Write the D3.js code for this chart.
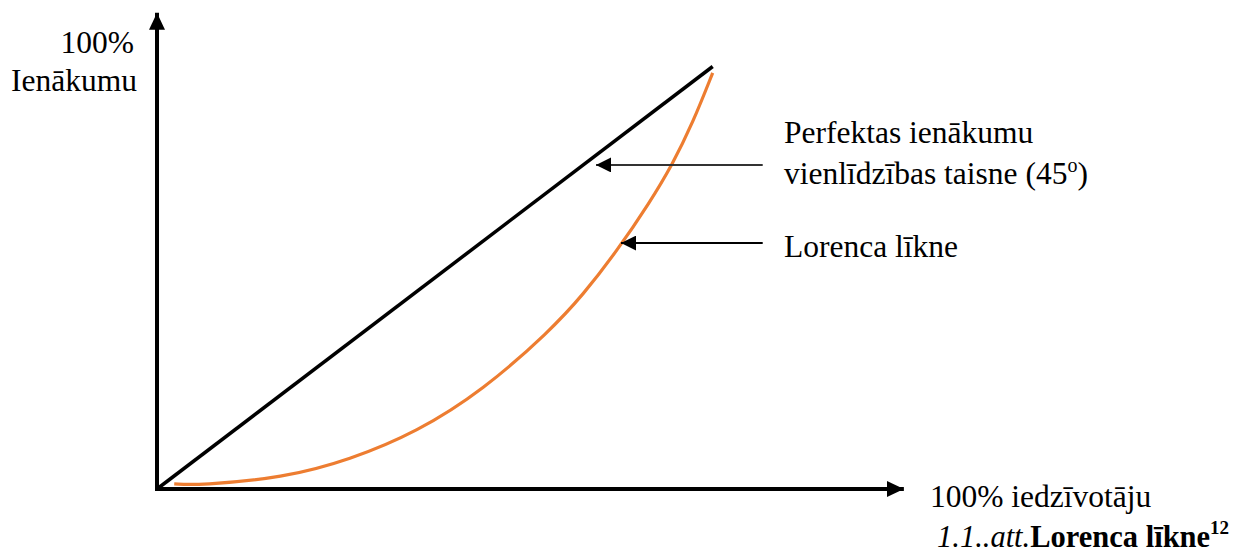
<!DOCTYPE html>
<meta charset="utf-8">
<style>
body { margin: 0; background: #fff; }
text { font-family: "Liberation Serif", "DejaVu Serif", serif; font-size: 31.5px; fill: #000; }
.axis { stroke: #000; stroke-width: 4px; fill: none; }
.equality { stroke: #000; stroke-width: 3.5px; fill: none; }
.lorenz { stroke: #ED7D31; stroke-width: 3.2px; fill: none; }
.pointer { fill: none; }
</style>
<svg width="1247" height="558"></svg>
<script src="https://cdnjs.cloudflare.com/ajax/libs/d3/7.8.5/d3.min.js"></script>
<script>

// share of population (%) and share of income (%)
var equalityX = [0, 100];
var equalityY = [0, 100];
var lorenzX = [3.1, 7.7, 22.7, 34.7, 46.8, 58.7, 70.7, 76.7, 82.8, 88.7, 92.7, 96.4, 100];
var lorenzY = [1.2, 0.9, 2.6, 6.9, 13.5, 23.4, 37.4, 46.0, 56.4, 67.9, 76.7, 86.6, 98.5];

// callouts: arrow tip (x, y) and tail x, in data units
var calloutNames = ["equality", "lorenz"];
var calloutTipX = [79.0, 83.5];
var calloutTipY = [76.7, 58.2];
var calloutTailX = [109, 109];

var axisMaxX = 134.4, axisMaxY = 112.7;

var svg = d3.select("svg");

var x = d3.scaleLinear().domain([0, 100]).range([157, 712.7]);
var y = d3.scaleLinear().domain([0, 100]).range([489, 66.5]);

var defs = svg.append("defs");
function arrowMarker(id, w, h, color) {
  defs.append("marker")
      .attr("id", id)
      .attr("markerUnits", "userSpaceOnUse")
      .attr("viewBox", "0 0 " + w + " " + h)
      .attr("refX", w)
      .attr("refY", h / 2)
      .attr("markerWidth", w)
      .attr("markerHeight", h)
      .attr("orient", "auto")
    .append("path")
      .attr("d", "M0,0L" + w + "," + (h / 2) + "L0," + h + "Z")
      .attr("fill", color);
}
arrowMarker("axis-head", 17, 16, "#000");
arrowMarker("call-head", 15, 15, "#000");

// axes
svg.append("line")
    .attr("class", "axis")
    .attr("x1", x(0)).attr("y1", y(0))
    .attr("x2", x(0)).attr("y2", y(axisMaxY))
    .attr("marker-end", "url(#axis-head)");
svg.append("line")
    .attr("class", "axis")
    .attr("x1", x(0) - 2).attr("y1", y(0))
    .attr("x2", x(axisMaxX)).attr("y2", y(0))
    .attr("marker-end", "url(#axis-head)");

var line = d3.line()
    .x(function(d) { return x(d[0]); })
    .y(function(d) { return y(d[1]); });

svg.append("path")
    .attr("class", "equality")
    .attr("d", line(d3.zip(equalityX, equalityY)));

svg.append("path")
    .attr("class", "lorenz")
    .attr("d", line.curve(d3.curveBasis)(d3.zip(lorenzX, lorenzY)));

// callout arrows
svg.selectAll(".pointer")
  .data(calloutNames)
  .enter().append("line")
    .attr("class", "pointer")
    .attr("x1", function(d, i) { return x(calloutTailX[i]); })
    .attr("y1", function(d, i) { return y(calloutTipY[i]); })
    .attr("x2", function(d, i) { return x(calloutTipX[i]); })
    .attr("y2", function(d, i) { return y(calloutTipY[i]); })
    .attr("stroke", function(d, i) { return i == 0 ? "#333" : "#000"; })
    .attr("stroke-width", 2)
    .attr("marker-end", "url(#call-head)");

// labels
svg.append("text").attr("x", 134).attr("y", 53).attr("text-anchor", "end").text("100%");
svg.append("text").attr("x", 137).attr("y", 91).attr("text-anchor", "end").text("Ienākumu");

svg.append("text").attr("x", 784).attr("y", 143).text("Perfektas ienākumu");
var t45 = svg.append("text").attr("x", 784).attr("y", 184);
t45.append("tspan").text("vienlīdzības taisne (45");
t45.append("tspan").attr("dy", -12).attr("font-size", 20).text("o");
t45.append("tspan").attr("dy", 12).text(")");

svg.append("text").attr("x", 784).attr("y", 257).text("Lorenca līkne");

svg.append("text").attr("x", 930).attr("y", 507).text("100% iedzīvotāju");

var cap = svg.append("text").attr("x", 937).attr("y", 547).style("font-size", "30.5px");
cap.append("tspan").attr("font-style", "italic").text("1.1..att.");
cap.append("tspan").attr("font-weight", "bold").text("Lorenca līkne");
cap.append("tspan").attr("font-weight", "bold").attr("font-size", 19).attr("dy", -13).text("12");

</script>
